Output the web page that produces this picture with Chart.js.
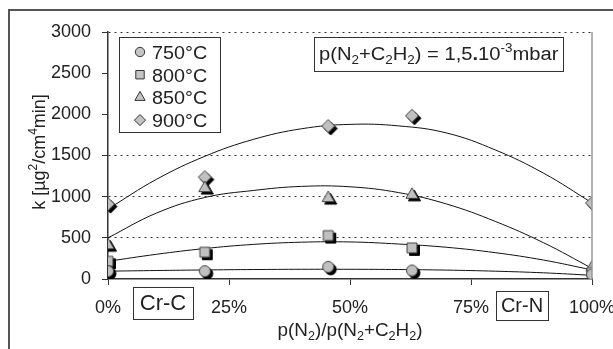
<!DOCTYPE html>
<html>
<head>
<meta charset="utf-8">
<script src="https://cdn.jsdelivr.net/npm/chart.js@4.4.1/dist/chart.umd.min.js"></script>
<style>
    html, body { margin: 0; padding: 0; background: #fff; }
    canvas { display: block; }
</style>
</head>
<body>
<canvas id="chart" width="613" height="349"></canvas>
<script>
const FONT = "'Liberation Sans', Arial, sans-serif";
const INK = '#222';

// measured samples, x = p(N2)/p(N2+C2H2) in %
const pointX = [0, 20, 45.5, 62.8, 100];
const k750 = [95, 95, 148, 103, 55];
const k800 = [215, 325, 527, 378, 80];
const k850 = [410, 1104, 983, 1023, 140];
const k900 = [910, 1237, 1858, 1983, 922];

// trend curves
const trendX = [0, 10, 20, 30, 40, 50, 60, 70, 80, 90, 100];
const trend750 = [95, 103, 110, 115, 118, 118, 115, 108, 95, 75, 45];
const trend800 = [215, 300, 370, 420, 447, 450, 425, 385, 320, 230, 110];
const trend850 = [500, 800, 990, 1075, 1125, 1120, 1050, 910, 700, 440, 130];
const trend900 = [850, 1210, 1490, 1695, 1825, 1878, 1860, 1773, 1568, 1285, 925];

const seriesLabels = ['750°C', '800°C', '850°C', '900°C'];
const pointStyles = ['circle', 'rect', 'triangle', 'rectRot'];
const pointSizes = [5.5, 7, 7, 6.5];
const xTicks = [0, 25, 50, 75, 100];
const gridValues = [500, 1000, 1500, 3000];

const pair = (xs, ys) => xs.map((x, i) => ({ x, y: ys[i] }));

// gray marker with a black drop copy, like the printed original
function markerSprite(style, radius) {
    const half = Math.ceil(radius) + 5;
    const c = document.createElement('canvas');
    c.width = c.height = half * 2;
    const ctx = c.getContext('2d');
    const opts = { pointStyle: style, radius, rotation: 0, borderWidth: 1 };
    ctx.fillStyle = '#000';
    ctx.strokeStyle = '#000';
    ctx.lineWidth = 1;
    Chart.helpers.drawPoint(ctx, opts, half + 2.5, half + 2.5);
    ctx.fillStyle = '#c0c0c0';
    ctx.strokeStyle = '#444';
    Chart.helpers.drawPoint(ctx, opts, half, half);
    return c;
}

const pointSets = [k750, k800, k850, k900].map((vals, i) => ({
    label: seriesLabels[i],
    data: pair(pointX, vals),
    showLine: false,
    pointStyle: markerSprite(pointStyles[i], pointSizes[i]),
    pointRadius: pointSizes[i],
    order: 1,
}));

const trendSets = [trend750, trend800, trend850, trend900].map((vals) => ({
    type: 'line',
    label: '',
    data: pair(trendX, vals),
    borderColor: '#111',
    borderWidth: 1,
    pointRadius: 0,
    tension: 0.4,
    fill: false,
    order: 2,
}));

const txt = (t, extra = {}) => ({ t, ...extra });
const sub = (t) => ({ t, sub: true });
const sup = (t) => ({ t, sup: true });

// text with sub/superscripts; sx stretches it horizontally
function drawRich(ctx, parts, x, y, size, align, sx = 1) {
    const fontFor = (p) => `${p.bold ? 'bold ' : ''}${p.sub || p.sup ? Math.round(size * 0.65) : size}px ${FONT}`;
    const widths = parts.map((p) => { ctx.font = fontFor(p); return ctx.measureText(p.t).width; });
    const total = widths.reduce((a, b) => a + b, 0);
    ctx.save();
    ctx.translate(x, y);
    ctx.scale(sx, 1);
    let cx = align === 'center' ? -total / 2 : 0;
    ctx.textAlign = 'left';
    ctx.textBaseline = 'alphabetic';
    parts.forEach((p, i) => {
        ctx.font = fontFor(p);
        const dy = p.sub ? size * 0.22 : (p.sup ? -size * 0.42 : 0);
        ctx.fillText(p.t, cx, dy);
        cx += widths[i];
    });
    ctx.restore();
}

function boxedText(ctx, text, box, size) {
    ctx.strokeStyle = '#333';
    ctx.lineWidth = 1;
    ctx.strokeRect(box[0] + 0.5, box[1] + 0.5, box[2], box[3]);
    ctx.font = `${size}px ${FONT}`;
    ctx.textAlign = 'center';
    ctx.textBaseline = 'middle';
    ctx.fillText(text, box[0] + box[2] / 2, box[1] + box[3] / 2 + 1);
}

const decor = {
    id: 'decor',
    beforeDraw(chart) {
        const ctx = chart.ctx;
        ctx.save();
        ctx.strokeStyle = '#555';
        ctx.lineWidth = 2;
        ctx.beginPath();
        ctx.moveTo(9, 349);
        ctx.lineTo(9, 10);
        ctx.lineTo(613, 10);
        ctx.stroke();
        ctx.restore();
    },
    afterDraw(chart) {
        const ctx = chart.ctx;
        const area = chart.chartArea;
        ctx.save();

        // right edge of the plot
        ctx.strokeStyle = '#999';
        ctx.lineWidth = 1.5;
        ctx.beginPath();
        ctx.moveTo(area.right, area.top);
        ctx.lineTo(area.right, area.bottom);
        ctx.stroke();

        // legend
        ctx.fillStyle = '#fff';
        ctx.fillRect(119, 37, 101, 95);
        ctx.strokeStyle = '#333';
        ctx.lineWidth = 1;
        ctx.strokeRect(119.5, 37.5, 101, 95);
        seriesLabels.forEach((label, i) => {
            const y = 52 + i * 22.7;
            ctx.fillStyle = '#c4c4c4';
            ctx.strokeStyle = '#333';
            ctx.lineWidth = 1;
            Chart.helpers.drawPoint(ctx, {
                pointStyle: pointStyles[i],
                radius: pointSizes[i] * 0.85,
                rotation: 0,
                borderWidth: 1,
            }, 140, y);
            ctx.fillStyle = INK;
            drawRich(ctx, [txt(label)], 152, y + 7, 18, 'left', 1.1);
        });

        // pressure note
        ctx.strokeStyle = '#333';
        ctx.strokeRect(314.5, 37.5, 249, 34);
        ctx.fillStyle = INK;
        drawRich(ctx, [
            txt('p(N'), sub('2'), txt('+C'), sub('2'), txt('H'), sub('2'),
            txt(') = 1,5'), txt('.', { bold: true }), txt('10'), sup('-3'), txt('mbar'),
        ], 319, 60, 18, 'left', 1.12);

        // phase boxes
        ctx.fillStyle = INK;
        boxedText(ctx, 'Cr-C', [133, 287, 60, 32], 22);
        boxedText(ctx, 'Cr-N', [496, 291, 52, 29], 20);

        // axis titles
        drawRich(ctx, [
            txt('p(N'), sub('2'), txt(')/p(N'), sub('2'), txt('+C'), sub('2'), txt('H'), sub('2'), txt(')'),
        ], (area.left + area.right) / 2, 336, 18, 'center', 1.05);

        ctx.translate(45, 152);
        ctx.rotate(-Math.PI / 2);
        drawRich(ctx, [
            txt('k [µg'), sup('2'), txt('/cm'), sup('4'), txt('min]'),
        ], 0, 0, 18, 'center');

        ctx.restore();
    },
};

new Chart(document.getElementById('chart'), {
    type: 'scatter',
    data: { datasets: [...pointSets, ...trendSets] },
    options: {
        responsive: false,
        animation: false,
        events: [],
        layout: { padding: { left: 0, top: 32, right: 0, bottom: 0 } },
        plugins: {
            legend: { display: false },
            tooltip: { enabled: false },
        },
        scales: {
            x: {
                type: 'linear',
                min: 0,
                max: 100,
                afterBuildTicks: (scale) => { scale.ticks = xTicks.map((value) => ({ value })); },
                afterFit: (scale) => {
                    scale.height = 70;
                    scale.paddingLeft = 0;
                    scale.paddingRight = 21;
                },
                grid: { drawOnChartArea: false, tickLength: 6, tickColor: '#333', color: '#333' },
                border: { color: '#333', width: 1.5 },
                ticks: {
                    color: INK,
                    padding: 12,
                    font: { family: FONT, size: 18 },
                    maxRotation: 0,
                    callback: (v) => `${v}%`,
                },
            },
            y: {
                type: 'linear',
                min: 0,
                max: 3000,
                afterFit: (scale) => { scale.width = 108; },
                grid: {
                    color: (c) => (c.tick && gridValues.includes(c.tick.value) ? '#333' : 'rgba(0,0,0,0)'),
                    lineWidth: 1,
                    tickLength: 6,
                    tickColor: '#333',
                },
                border: { color: '#333', width: 1.5, dash: [2, 4] },
                ticks: {
                    stepSize: 500,
                    color: INK,
                    padding: 11,
                    font: { family: FONT, size: 18 },
                    callback: (v) => String(v),
                },
            },
        },
    },
    plugins: [decor],
});
</script>
</body>
</html>
